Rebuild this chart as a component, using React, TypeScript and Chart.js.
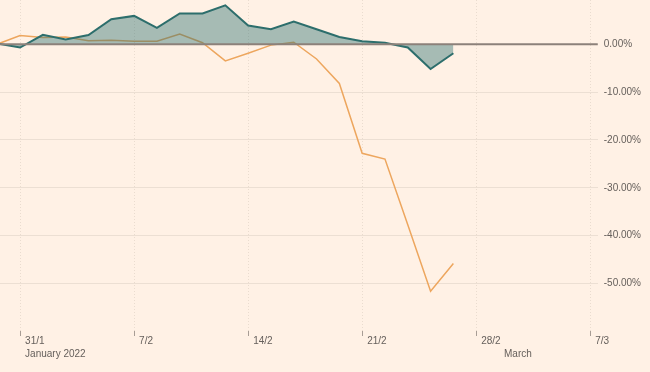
import React, { useEffect, useRef } from "react";
import { Chart, registerables } from "chart.js";

Chart.register(...registerables);

// Trading days (category positions on the x axis)
const dates = [
  "28/1", "31/1", "1/2", "2/2", "3/2", "4/2", "7/2", "8/2", "9/2", "10/2", "11/2",
  "14/2", "15/2", "16/2", "17/2", "18/2", "21/2", "22/2", "23/2", "24/2", "25/2",
];

// Percentage change series
const tealSeries = [
  0.15, -0.7, 1.95, 1.0, 1.9, 5.2, 5.9, 3.4, 6.4, 6.4, 8.1,
  3.9, 3.1, 4.7, 3.1, 1.5, 0.6, 0.3, -0.7, -5.2, -1.9,
];
const orangeSeries = [
  0, 1.8, 1.4, 1.5, 0.7, 0.8, 0.6, 0.6, 2.1, 0.3, -3.5,
  -1.9, -0.2, 0.4, -3.1, -8.2, -22.8, -24.0, -37.7, -51.6, -45.8,
];

// x-axis ticks (positions in the trading-day index) and labels
const xTickPositions = [1, 6, 11, 16, 21, 22, 26];
const xTickLabels: (string | string[])[] = [
  ["31/1", "January 2022"],
  "7/2",
  "14/2",
  "21/2",
  "28/2",
  ["", "March"],
  "7/3",
];
const hiddenTickPositions = [22];

const yTickValues = [0, -10, -20, -30, -40, -50];

const BG = "#fff1e5";

export default function App() {
  const ref = useRef<HTMLCanvasElement | null>(null);

  useEffect(() => {
    if (!ref.current) return;
    const zeroLine = {
      id: "zeroLine",
      afterDatasetsDraw(chart: any) {
        const { ctx, chartArea, scales } = chart;
        const y = scales.y.getPixelForValue(0);
        ctx.save();
        ctx.strokeStyle = "#8c817a";
        ctx.lineWidth = 2;
        ctx.beginPath();
        ctx.moveTo(chartArea.left, y);
        ctx.lineTo(chartArea.right, y);
        ctx.stroke();
        ctx.restore();
      },
    };
    const bgPlugin = {
      id: "bg",
      beforeDraw(chart: any) {
        const { ctx, width, height } = chart;
        ctx.save();
        ctx.fillStyle = BG;
        ctx.fillRect(0, 0, width, height);
        ctx.restore();
      },
    };

    const chart = new Chart(ref.current, {
      type: "line",
      data: {
        labels: dates,
        datasets: [
          {
            label: "teal",
            data: tealSeries.map((v, i) => ({ x: i, y: v })),
            borderColor: "#2d6e6c",
            backgroundColor: "rgba(40,110,110,0.41)",
            borderWidth: 2,
            fill: "origin",
            pointRadius: 0,
            tension: 0,
          },
          {
            label: "orange",
            data: orangeSeries.map((v, i) => ({ x: i, y: v })),
            borderColor: "#eda65e",
            borderWidth: 1.5,
            fill: false,
            pointRadius: 0,
            tension: 0,
          },
        ],
      },
      options: {
        animation: false,
        responsive: true,
        maintainAspectRatio: false,
        layout: { padding: { left: 0, right: 3, top: 0, bottom: 13 }, autoPadding: false },
        plugins: {
          legend: { display: false },
          tooltip: { enabled: false },
          title: { display: false },
        },
        scales: {
          x: {
            type: "linear",
            min: 0.12,
            max: 26.33,
            afterBuildTicks(axis: any) {
              axis.ticks = xTickPositions.map((v) => ({ value: v }));
            },
            afterFit(axis: any) {
              axis.paddingLeft = 0;
              axis.paddingRight = 0;
            },
            ticks: {
              autoSkip: false,
              maxRotation: 0,
              minRotation: 0,
              align: "start",
              labelOffset: 5,
              padding: -2,
              color: "#66605c",
              font: { family: "'Liberation Sans', Arial, sans-serif", size: 10, lineHeight: 1.35 },
              callback(value: any) {
                const i = xTickPositions.indexOf(Number(value));
                return i >= 0 ? xTickLabels[i] : "";
              },
            },
            grid: {
              color: (c: any) =>
                c.tick && hiddenTickPositions.includes(c.tick.value) ? "rgba(0,0,0,0)" : "#eadccf",
              tickColor: (c: any) =>
                c.tick && hiddenTickPositions.includes(c.tick.value) ? "rgba(0,0,0,0)" : "#a89d95",
              lineWidth: 1,
              tickLength: 5,
              drawTicks: true,
            },
            border: { display: false, dash: [1, 2] },
          },
          y: {
            type: "linear",
            position: "right",
            min: -59.9,
            max: 9.22,
            afterBuildTicks(axis: any) {
              axis.ticks = yTickValues.map((v) => ({ value: v }));
            },
            afterFit(axis: any) {
              axis.paddingTop = 0;
              axis.paddingBottom = 0;
            },
            ticks: {
              padding: 6,
              color: "#66605c",
              font: { family: "'Liberation Sans', Arial, sans-serif", size: 10 },
              callback(value: any) {
                return Number(value).toFixed(2) + "%";
              },
            },
            grid: {
              color: "#ecdfd3",
              lineWidth: 1,
              drawTicks: false,
            },
            border: { display: false },
          },
        },
      },
      plugins: [bgPlugin, zeroLine],
    } as any);

    return () => chart.destroy();
  }, []);

  return (
    <div
      style={{
        position: "fixed",
        left: 0,
        top: 0,
        width: 650,
        height: 372,
        background: BG,
      }}
    >
      <canvas ref={ref} />
    </div>
  );
}
